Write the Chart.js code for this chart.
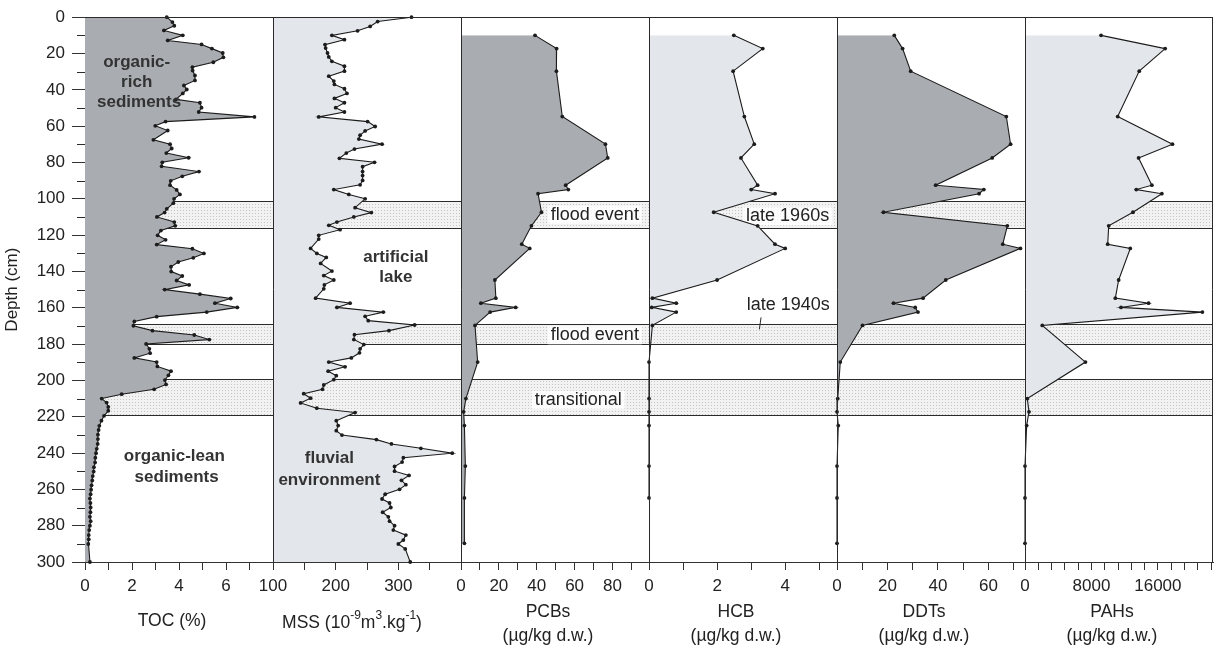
<!DOCTYPE html>
<html>
<head>
<meta charset="utf-8">
<script src="https://cdn.jsdelivr.net/npm/chart.js@4/dist/chart.umd.min.js"></script>
<style>
  html, body { margin: 0; padding: 0; background: #fff; }
</style>
</head>
<body>
<canvas id="core" width="1219" height="646"></canvas>
<script>
// depth axis (cm)
const depthTicks = [0, 20, 40, 60, 80, 100, 120, 140, 160, 180, 200, 220, 240, 260, 280, 300];
const depthMinor = [10, 30, 50, 70, 90, 110, 130, 150, 170, 190, 210, 230, 250, 270, 290];

// TOC (%)
const tocDepth = [0, 2.7, 4.7, 7.3, 10, 12.8, 15, 17.3, 19.7, 22.1, 24.8, 27.5, 29.4, 32.1, 34.8, 37.6, 39.8, 42, 45.2, 47.1,
  49.8, 52.2, 54.9, 57.5, 59.8, 62.4, 67.5, 69.9, 72.3, 74.8, 77.4, 79.9, 82.1, 85, 87.6, 90.1, 92.5, 95.1, 97.6, 100,
  102.4, 105.5, 107.6, 110, 112.8, 114.9, 117.5, 120.1, 122.6, 125.2, 127.5, 130.1, 132.5, 134.8, 137.4, 140.1, 142.5, 145, 147.4, 150,
  152.5, 154.9, 157.5, 159.8, 162.4, 164.9, 167.5, 169.9, 172.6, 175, 177.5, 179.9, 182.6, 185, 187.6, 189.9, 192.3, 194.9, 197.2, 199.8,
  202.2, 204.9, 207.6, 210, 212.2, 214.6, 216.7, 219.5, 222.2, 225, 227.3, 229.9, 232.3, 235, 237.7, 240.1, 242.6, 245.2, 247.8, 250.2,
  252.7, 255.1, 257.8, 260.2, 262.7, 265.1, 267.5, 270, 272.6, 275.1, 277.5, 280, 282.4, 285.2, 287.5, 290.1, 300];
const tocValue = [3.48, 3.72, 3.80, 3.36, 4.16, 3.52, 4.96, 5.40, 5.86, 5.89, 5.46, 4.57, 4.58, 4.68, 4.68, 4.21, 4.33, 4.16, 3.87, 4.89,
  4.96, 4.84, 7.21, 3.43, 2.99, 3.52, 2.91, 3.62, 3.69, 3.46, 4.41, 3.29, 3.26, 4.85, 4.14, 3.65, 3.62, 3.90, 4.04, 3.79,
  3.76, 3.48, 3.39, 3.06, 3.80, 3.84, 3.23, 3.09, 3.43, 3.05, 4.57, 5.06, 4.61, 3.97, 3.66, 3.67, 4.14, 3.90, 4.43, 3.39,
  4.89, 6.20, 5.53, 6.48, 5.18, 3.05, 2.10, 2.06, 2.87, 4.65, 5.29, 2.60, 2.74, 2.77, 2.10, 3.05, 3.08, 3.66, 3.55, 3.40,
  3.45, 2.94, 1.56, 0.71, 0.92, 0.99, 0.99, 0.81, 0.70, 0.61, 0.58, 0.55, 0.55, 0.54, 0.50, 0.47, 0.44, 0.43, 0.38, 0.37,
  0.33, 0.31, 0.28, 0.26, 0.24, 0.21, 0.23, 0.24, 0.23, 0.21, 0.24, 0.21, 0.18, 0.16, 0.16, 0.14, 0.21];

// MSS (10^-9 m3/kg)
const mssDepth = [0, 2.4, 5.1, 7.5, 10, 12.4, 15.1, 17, 19.7, 21.9, 24.3, 27, 29.7, 32.5, 35.2, 37, 39.4, 42, 44.7, 47.1,
  49.8, 52.2, 54.9, 57.5, 60.2, 62.6, 65, 67.1, 69.9, 72.6, 74.8, 77.7, 79.9, 82.3, 85, 87.2, 89.9, 92.3, 94.9, 97.6,
  100, 104.9, 107.6, 110, 112.8, 114.6, 117, 120.1, 122.2, 127.3, 130.1, 132.3, 135.6, 139.8, 142.3, 144.7, 147.4, 149.6, 154.7, 157.5,
  159.8, 162.4, 164.7, 167.1, 169.5, 172.6, 174.8, 177.5, 180.3, 182.6, 184.8, 187.6, 189.9, 192.5, 194.9, 197.4, 199.6, 202.5, 204.9, 207.3,
  209.8, 212.4, 215.3, 217.7, 222.2, 224.9, 227.7, 230.1, 232.6, 235, 237.4, 240.1, 242.6, 245, 247.4, 250, 252.3, 255, 257.4, 260,
  262.7, 265.3, 267.5, 270, 272.6, 275.1, 277.5, 280, 282.4, 285.2, 287.9, 290.1, 292.8, 300];
const mssValue = [321, 267, 255, 235, 194, 214, 183, 184, 187, 189, 194, 214, 214, 189, 197, 198, 214, 218, 198, 214,
  200, 214, 173, 251, 263, 247, 239, 237, 274, 230, 217, 206, 262, 243, 243, 243, 243, 239, 197, 221,
  247, 231, 257, 229, 202, 189, 207, 173, 173, 160, 170, 185, 176, 194, 181, 197, 182, 181, 168, 223,
  202, 276, 247, 252, 326, 285, 230, 229, 245, 239, 238, 225, 189, 215, 188, 201, 197, 181, 179, 149,
  160, 144, 170, 231, 201, 204, 201, 210, 265, 289, 336, 386, 308, 306, 294, 294, 317, 305, 312, 302,
  279, 274, 286, 288, 275, 284, 286, 294, 292, 312, 308, 300, 311, 319];

// contaminants, shared sampling depths
const sampleDepth = [10, 17.3, 29.7, 54.7, 69.9, 77.5, 92.5, 94.9, 97.2, 107.4, 114.9, 125, 127.3, 144.7, 154.7, 157.5, 159.8, 162.4, 169.7,
  189.9, 210, 217.3, 224.9, 247.2, 264.7, 289.7];
const pcbValue = [39.1, 50.5, 50.4, 53.5, 76.3, 77.5, 55.3, 56.7, 40.7, 42.5, 37.2, 32.1, 36.3, 17.9, 18.4, 10.5, 28.9, 15.4, 7.4,
  8.8, 2.6, 1.4, 1.8, 2.3, 1.8, 1.8];
const hcbValue = [2.49, 3.34, 2.47, 2.80, 3.09, 2.70, 3.19, 3.00, 3.70, 1.90, 3.19, 3.70, 4.00, 2.00, 0.10, 0.80, 0.08, 0.80, 0.10,
  0, 0, 0, 0, 0, 0, null];
const ddtValue = [22.7, 26.0, 29.2, 67.1, 68.8, 61.5, 39.1, 58.2, 56.3, 18.4, 67.5, 65.7, 72.7, 43.1, 34.1, 22.4, 31.0, 32.1, 10.1,
  1.3, 0.3, 0, 0.5, 0, 0, 0];
const pahValue = [9160, 16880, 13760, 11160, 17760, 13680, 15280, 13400, 16480, 13000, 10080, 9960, 12680, 11280, 10880, 14880, 11560, 21360, 2080,
  7280, 280, 480, 200, 0, 0, 0];

// x tick marks and labelled ticks per panel
const tocTicks = [0, 1, 2, 3, 4, 5, 6, 7, 8];
const tocLabels = [0, 2, 4, 6];
const mssTicks = [100, 150, 200, 250, 300, 350, 400];
const mssLabels = [100, 200, 300];
const pcbTicks = [0, 10, 20, 30, 40, 50, 60, 70, 80, 90];
const pcbLabels = [0, 20, 40, 60, 80];
const hcbTicks = [0, 1, 2, 3, 4, 5];
const hcbLabels = [0, 2, 4];
const ddtTicks = [0, 10, 20, 30, 40, 50, 60, 70];
const ddtLabels = [0, 20, 40, 60];
const pahTicks = [0, 1600, 3200, 4800, 6400, 8000, 9600, 11200, 12800, 14400, 16000, 17600, 19200, 20800, 22400];
const pahLabels = [0, 8000, 16000];

// shaded event layers (cm)
const bandTop = [101, 169, 199];
const bandBottom = [116, 180, 219];

const DARK = '#a9acb1';
const LIGHT = '#e3e6eb';
const INK = '#1c1c1c';

Chart.defaults.font.family = '"Liberation Sans", Arial, sans-serif';
Chart.defaults.color = '#222';

function panelAxis(min, max, ticks, labels) {
  return {
    type: 'linear', position: 'bottom', stack: 'panels', stackWeight: 1,
    min: min, max: max,
    afterBuildTicks: (s) => { s.ticks = ticks.map(v => ({ value: v })); },
    afterFit: (s) => { s.height = 84; },
    grid: { drawOnChartArea: false, tickLength: 8, tickColor: '#333', tickWidth: 1 },
    border: { color: '#333', width: 1 },
    ticks: {
      autoSkip: false, maxRotation: 0, padding: 6, color: '#222', font: { size: 17 },
      callback: (v) => labels.includes(v) ? String(v) : ''
    }
  };
}

function series(depth, values, axis, color, base) {
  return {
    data: depth.map((d, i) => ({ x: values[i], y: d })),
    xAxisID: axis, yAxisID: 'y', indexAxis: 'y',
    borderColor: INK, borderWidth: 1.1, backgroundColor: color,
    fill: { value: base },
    pointRadius: 1.9, pointBackgroundColor: INK, pointBorderWidth: 0, pointHoverRadius: 1.9,
    tension: 0, clip: 5
  };
}

function bandPattern(ctx) {
  const c = document.createElement('canvas');
  c.width = 3; c.height = 3;
  const g = c.getContext('2d');
  g.fillStyle = '#f2f2f2'; g.fillRect(0, 0, 3, 3);
  g.fillStyle = '#c4c4c4'; g.fillRect(0, 0, 1, 1);
  return ctx.createPattern(c, 'repeat');
}

const notes = [
  { axis: 'xToc', x: 2.2, d: 25, text: 'organic-', bold: true },
  { axis: 'xToc', x: 2.2, d: 36, text: 'rich', bold: true },
  { axis: 'xToc', x: 2.3, d: 47, text: 'sediments', bold: true },
  { axis: 'xToc', x: 3.8, d: 242, text: 'organic-lean', bold: true },
  { axis: 'xToc', x: 3.9, d: 253.5, text: 'sediments', bold: true },
  { axis: 'xMss', x: 296, d: 132, text: 'artificial', bold: true },
  { axis: 'xMss', x: 296, d: 143.5, text: 'lake', bold: true },
  { axis: 'xMss', x: 190, d: 243, text: 'fluvial', bold: true },
  { axis: 'xMss', x: 190, d: 255, text: 'environment', bold: true },
  { axis: 'xPcb', x: 70.7, d: 108.8, text: 'flood event', box: true },
  { axis: 'xPcb', x: 70.7, d: 175.2, text: 'flood event', box: true },
  { axis: 'xPcb', x: 61.9, d: 210.7, text: 'transitional', box: true },
  { axis: 'xHcb', x: 4.07, d: 109.6, text: 'late 1960s', box: true },
  { axis: 'xHcb', x: 4.09, d: 158.3, text: 'late 1940s' }
];

const axisTitles = [
  { axis: 'xToc', lines: ['TOC (%)'] },
  { axis: 'xMss', parts: [['MSS (10', 0], ['-9', 1], ['m', 0], ['3', 1], ['.kg', 0], ['-1', 1], [')', 0]] },
  { axis: 'xPcb', lines: ['PCBs', '(\u00b5g/kg d.w.)'] },
  { axis: 'xHcb', lines: ['HCB', '(\u00b5g/kg d.w.)'] },
  { axis: 'xDdt', lines: ['DDTs', '(\u00b5g/kg d.w.)'] },
  { axis: 'xPah', lines: ['PAHs', '(\u00b5g/kg d.w.)'] }
];

const decor = {
  id: 'decor',
  beforeDatasetsDraw(chart) {
    const { ctx, chartArea: a, scales } = chart;
    const y = scales.y;
    ctx.save();
    const pat = bandPattern(ctx);
    bandTop.forEach((top, i) => {
      const y0 = Math.round(y.getPixelForValue(top)) + 0.5;
      const y1 = Math.round(y.getPixelForValue(bandBottom[i])) + 0.5;
      ctx.fillStyle = pat;
      ctx.fillRect(a.left, y0, a.right - a.left, y1 - y0);
      ctx.strokeStyle = '#2a2a2a';
      ctx.lineWidth = 1;
      ctx.beginPath();
      ctx.moveTo(a.left, y0); ctx.lineTo(a.right, y0);
      ctx.moveTo(a.left, y1); ctx.lineTo(a.right, y1);
      ctx.stroke();
    });
    ctx.font = '18px "Liberation Sans", Arial, sans-serif';
    ctx.fillStyle = 'rgba(255,255,255,0.8)';
    notes.filter(n => n.box).forEach(n => {
      const cx = scales[n.axis].getPixelForValue(n.x);
      const cy = y.getPixelForValue(n.d);
      const w = ctx.measureText(n.text).width + 6;
      ctx.fillRect(cx - w / 2, cy - 9, w, 18);
    });
    ctx.restore();
  },
  afterDatasetsDraw(chart) {
    const { ctx, chartArea: a, scales } = chart;
    const y = scales.y;
    ctx.save();
    ctx.strokeStyle = '#2a2a2a';
    ctx.lineWidth = 1;
    ctx.beginPath();
    ['xMss', 'xPcb', 'xHcb', 'xDdt', 'xPah'].forEach(id => {
      const x = Math.round(scales[id].left) + 0.5;
      ctx.moveTo(x, a.top); ctx.lineTo(x, a.bottom);
    });
    const r = Math.round(a.right) - 0.5;
    ctx.moveTo(r, a.top); ctx.lineTo(r, a.bottom);
    const t = Math.round(a.top) + 0.5;
    ctx.moveTo(a.left, t); ctx.lineTo(a.right, t);
    // minor depth ticks
    depthMinor.forEach(d => {
      const py = Math.round(y.getPixelForValue(d)) + 0.5;
      ctx.moveTo(a.left - 8, py); ctx.lineTo(a.left, py);
    });
    // leader for "late 1940s"
    const h = scales.xHcb;
    ctx.moveTo(h.getPixelForValue(3.29), y.getPixelForValue(165.3));
    ctx.lineTo(h.getPixelForValue(3.24), y.getPixelForValue(171.9));
    ctx.stroke();

    ctx.textAlign = 'center';
    ctx.textBaseline = 'middle';
    notes.forEach(n => {
      ctx.font = n.bold ? 'bold 17px "Liberation Sans", Arial, sans-serif' : '18px "Liberation Sans", Arial, sans-serif';
      ctx.fillStyle = n.bold ? '#333' : '#222';
      ctx.fillText(n.text, scales[n.axis].getPixelForValue(n.x), y.getPixelForValue(n.d));
    });
    ctx.restore();
  },
  afterDraw(chart) {
    const { ctx, scales } = chart;
    ctx.save();
    ctx.fillStyle = '#222';
    ctx.textBaseline = 'middle';
    axisTitles.forEach(tl => {
      const s = scales[tl.axis];
      const cx = (s.left + s.right) / 2 - 7;
      if (tl.lines) {
        ctx.textAlign = 'center';
        ctx.font = '17.5px "Liberation Sans", Arial, sans-serif';
        if (tl.lines.length === 1) {
          ctx.fillText(tl.lines[0], cx, s.top + 59);
        } else {
          ctx.fillText(tl.lines[0], cx, s.top + 50);
          ctx.fillText(tl.lines[1], cx, s.top + 74);
        }
      } else {
        const big = '17.5px "Liberation Sans", Arial, sans-serif';
        const small = '12px "Liberation Sans", Arial, sans-serif';
        let total = 0;
        tl.parts.forEach(([txt, sup]) => { ctx.font = sup ? small : big; total += ctx.measureText(txt).width; });
        let x = cx - 8 - total / 2;
        ctx.textAlign = 'left';
        tl.parts.forEach(([txt, sup]) => {
          ctx.font = sup ? small : big;
          ctx.fillText(txt, x, s.top + 61 - (sup ? 7 : 0));
          x += ctx.measureText(txt).width;
        });
      }
    });
    ctx.restore();
  }
};

new Chart(document.getElementById('core'), {
  type: 'line',
  data: {
    datasets: [
      series(tocDepth, tocValue, 'xToc', DARK, 0),
      series(mssDepth, mssValue, 'xMss', LIGHT, 100),
      series(sampleDepth, pcbValue, 'xPcb', DARK, 0),
      series(sampleDepth, hcbValue, 'xHcb', LIGHT, 0),
      series(sampleDepth, ddtValue, 'xDdt', DARK, 0),
      series(sampleDepth, pahValue, 'xPah', LIGHT, 0)
    ]
  },
  options: {
    responsive: false,
    animation: false,
    indexAxis: 'y',
    events: [],
    layout: { padding: { top: 14, right: 2, bottom: 0, left: 0 } },
    plugins: { legend: { display: false }, tooltip: { enabled: false } },
    scales: {
      y: {
        type: 'linear', position: 'left', reverse: true, min: 0, max: 300,
        afterBuildTicks: (s) => { s.ticks = depthTicks.map(v => ({ value: v })); },
        afterFit: (s) => { s.width = 85; },
        grid: { drawOnChartArea: false, tickLength: 13, tickColor: '#333' },
        border: { color: '#2a2a2a' },
        ticks: { autoSkip: false, padding: 7, color: '#222', font: { size: 17 } },
        title: { display: true, text: 'Depth (cm)', color: '#222', font: { size: 17 }, padding: { top: 2, bottom: 0 } }
      },
      xToc: panelAxis(0, 8, tocTicks, tocLabels),
      xMss: panelAxis(100, 400, mssTicks, mssLabels),
      xPcb: panelAxis(0, 99.3, pcbTicks, pcbLabels),
      xHcb: panelAxis(0, 5.52, hcbTicks, hcbLabels),
      xDdt: panelAxis(0, 74.5, ddtTicks, ddtLabels),
      xPah: panelAxis(0, 22640, pahTicks, pahLabels)
    }
  },
  plugins: [decor]
});
</script>
</body>
</html>
